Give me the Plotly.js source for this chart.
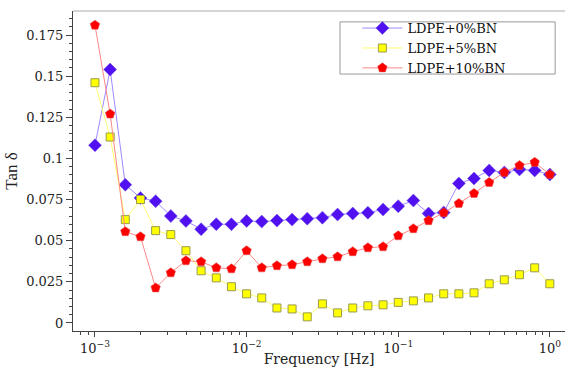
<!DOCTYPE html>
<html>
<head>
<meta charset="utf-8">
<script src="https://cdn.plot.ly/plotly-3.0.1.min.js"></script>
<style>html,body{margin:0;padding:0;background:#fff;}#chart{width:565px;height:367px;}</style>
</head>
<body>
<div id="chart"></div>
<script>
// Frequencies: 10 points per decade from 1e-3 to 1 Hz
const freqExp = [-3.0,-2.9,-2.8,-2.7,-2.6,-2.5,-2.4,-2.3,-2.2,-2.1,-2.0,-1.9,-1.8,-1.7,-1.6,-1.5,-1.4,-1.3,-1.2,-1.1,-1.0,-0.9,-0.8,-0.7,-0.6,-0.5,-0.4,-0.3,-0.2,-0.1,0.0];
const frequency = freqExp.map(e => Math.pow(10, e));

const ldpe0 = [0.108,0.154,0.084,0.076,0.074,0.065,0.062,0.057,0.060,0.060,0.062,0.0616,0.0622,0.0628,0.0634,0.064,0.0659,0.0665,0.067,0.0689,0.071,0.0744,0.0665,0.0671,0.0848,0.0878,0.0927,0.0915,0.0933,0.0927,0.0902];
const ldpe5 = [0.146,0.113,0.0628,0.075,0.0561,0.0537,0.0439,0.0317,0.0274,0.022,0.0177,0.0152,0.0091,0.0085,0.0037,0.0116,0.0061,0.0091,0.0104,0.011,0.0125,0.0134,0.0152,0.0177,0.0177,0.0183,0.0238,0.0262,0.0293,0.0335,0.0238];
const ldpe10 = [0.181,0.127,0.0555,0.0524,0.0213,0.0305,0.0378,0.0372,0.0335,0.0329,0.0439,0.0335,0.0348,0.0354,0.0372,0.039,0.0402,0.0433,0.0457,0.0463,0.053,0.0573,0.0622,0.067,0.0726,0.0787,0.0854,0.0915,0.0957,0.0976,0.0902];

const seriesNames = ['LDPE+0%BN','LDPE+5%BN','LDPE+10%BN'];
const yTickVals = [0,0.025,0.05,0.075,0.1,0.125,0.15,0.175];
const yTickText = ['0','0.025','0.05','0.075','0.1','0.125','0.15','0.175'];
const xTickVals = [0.001,0.01,0.1,1];
const xTickText = ['10<sup>\u22123</sup>','10<sup>\u22122</sup>','10<sup>\u22121</sup>','10<sup>0</sup>'];

const minorX = [];
for (let d = -4; d <= 0; d++) for (let k = 2; k <= 9; k++) minorX.push(k * Math.pow(10, d));

const serif = 'DejaVu Serif, serif';

const traces = [
  {x: frequency, y: ldpe0, name: seriesNames[0], mode: 'lines+markers',
   line: {color: '#a088ff', width: 1},
   marker: {symbol: 'diamond', size: 10, color: '#5010f0', line: {color: '#7050e0', width: 0.5}}},
  {x: frequency, y: ldpe5, name: seriesNames[1], mode: 'lines+markers',
   line: {color: '#ffff70', width: 1},
   marker: {symbol: 'square', size: 8, color: '#ffff00', line: {color: '#9a9a50', width: 1}}},
  {x: frequency, y: ldpe10, name: seriesNames[2], mode: 'lines+markers',
   line: {color: '#ff8888', width: 1},
   marker: {symbol: 'pentagon', size: 10, color: '#ff0000', line: {color: '#e05050', width: 0.5}}}
];

const layout = {
  width: 565, height: 367,
  margin: {l: 73, r: 0, t: 11, b: 36},
  paper_bgcolor: '#fff', plot_bgcolor: '#fff',
  font: {family: serif, color: '#222', size: 13},
  showlegend: true,
  legend: {x: 0.578, y: 0.884, xanchor: 'left', yanchor: 'middle',
    borderwidth: 0, bgcolor: 'rgba(0,0,0,0)',
    font: {family: serif, size: 13, color: '#111'}, tracegroupgap: 0, itemwidth: 40},
  xaxis: {type: 'log', range: [-3.145, 0.1],
    tickmode: 'array', tickvals: xTickVals, ticktext: xTickText,
    ticks: 'outside', ticklen: 5, tickcolor: '#444', showgrid: false, zeroline: false,
    showline: true, linecolor: '#444', linewidth: 1,
    tickfont: {family: serif, size: 13, color: '#222'},
    minor: {tickmode: 'array', tickvals: minorX, ticks: 'outside', ticklen: 3, tickcolor: '#444', showgrid: false},
    title: {text: 'Frequency [Hz]', font: {family: serif, size: 14, color: '#222'}, standoff: 9}},
  yaxis: {range: [-0.0049, 0.1896],
    tickmode: 'array', tickvals: yTickVals, ticktext: yTickText,
    ticks: 'outside', ticklen: 6, tickcolor: '#444', showgrid: false, zeroline: false,
    showline: true, linecolor: '#444', linewidth: 1,
    tickfont: {family: serif, size: 13, color: '#222'},
    minor: {dtick: 0.005, ticks: 'outside', ticklen: 3, tickcolor: '#444', showgrid: false},
    title: {text: 'Tan \u03b4', font: {family: 'Liberation Serif, serif', size: 17, color: '#222'}, standoff: 4}},
  shapes: [
    {type: 'line', xref: 'paper', yref: 'paper', x0: 0, x1: 1, y0: 1, y1: 1,
     line: {color: '#aaa', width: 1}},
    {type: 'rect', xref: 'paper', yref: 'paper', x0: 0.5427, x1: 0.98, y0: 0.803, y1: 0.966,
     fillcolor: '#ffffff', line: {color: '#999', width: 1}, layer: 'below'}
  ]
};

Plotly.newPlot('chart', traces, layout, {displayModeBar: false, staticPlot: true});
</script>
</body>
</html>
